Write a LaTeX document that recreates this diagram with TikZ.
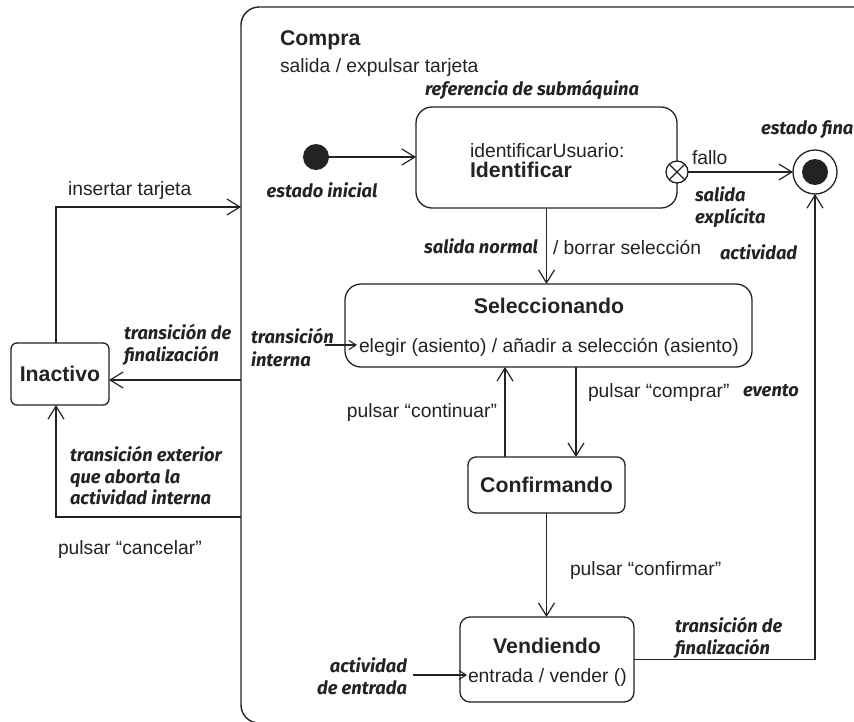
\documentclass[tikz,border=0pt]{standalone}
\usepackage{fontspec}
\setmainfont{Liberation Sans}
\newfontfamily\notefont{Fira Sans}
\usetikzlibrary{arrows.meta}
\definecolor{ink}{RGB}{35,35,35}

\begin{document}
\begin{tikzpicture}[x=1pt,y=-1pt,
  every node/.style={inner sep=0pt, outer sep=0pt},
  txt/.style={font=\fontsize{19.3}{23}\selectfont, text=ink, anchor=base west},
  ttl/.style={font=\fontsize{21.3}{25}\selectfont\bfseries, text=ink, anchor=base},
  note/.style={font=\notefont\fontsize{18.3}{22.5}\selectfont\bfseries\itshape, text=ink, anchor=base west, align=left},
  statebox/.style={draw=ink, line width=1.3pt, rounded corners=#1, fill=white},
  statebox/.default=12pt,
  wire/.style={draw=ink, line width=1.2pt},
  arr/.style={wire, -{Straight Barb[length=13pt,width=16pt,line width=1.2pt]}},
  arrsmall/.style={wire, -{Straight Barb[length=7pt,width=9pt,line width=1.1pt]}},
  dot/.style={circle, fill=ink, minimum size=#1},
]
\useasboundingbox (0,0) rectangle (854,721);

% composite state "Compra" (runs past the right and bottom edges)
\node[draw=ink, line width=1.4pt, rounded corners=18pt, minimum width=700pt,
      minimum height=716pt, anchor=north west] (compra) at (241,7) {};
\node[ttl, anchor=base west] (compraName) at (280,45.5) {Compra};
\node[txt] (compraExit) at (280,72) {salida / expulsar tarjeta};

% states
\node[statebox=6pt, minimum width=98pt, minimum height=62pt] (inact) at (60,374) {};
\node[ttl] (inactName) at (60,381.5) {Inactivo};

\node[statebox=16pt, minimum width=261pt, minimum height=101pt] (ident) at (546.5,157.5) {};
\node[txt] (identRef) at (470,157) {identificarUsuario:};
\node[ttl, anchor=base west] (identName) at (470,177.5) {Identificar};

\node[statebox=16pt, minimum width=407pt, minimum height=83pt] (sel) at (548.5,325.5) {};
\node[ttl] (selName) at (549,313.5) {Seleccionando};
\node[txt] (selInt) at (359,352) {elegir (asiento) / añadir a selección (asiento)};

\node[statebox=8pt, minimum width=157pt, minimum height=56pt] (conf) at (546.5,485) {};
\node[ttl] (confName) at (546.5,492.5) {Confirmando};

\node[statebox=10pt, minimum width=174pt, minimum height=85pt] (vend) at (547,659.5) {};
\node[ttl] (vendName) at (547,653.5) {Vendiendo};
\node[txt] (vendEntry) at (468,682) {entrada / vender ()};

% pseudostates
\node[dot=26pt] (init) at (316,157) {};
\node[circle, draw=ink, line width=1.3pt, fill=white, minimum size=44pt] (final) at (815,172) {};
\node[dot=26pt] (finalCore) at (final.center) {};
\node[circle, draw=ink, line width=1.3pt, fill=white, minimum size=22pt] (exitpt) at (677,172) {};
\draw[wire] (exitpt.north west) -- (exitpt.south east);
\draw[wire] (exitpt.north east) -- (exitpt.south west);

% helper points
\coordinate (insIn) at (241,207);
\coordinate (finOut) at (241,380);
\coordinate (canOut) at (241,517);
\coordinate (colInact) at (56,0);
\coordinate (colUp) at (505,0);
\coordinate (colDown) at (576,0);
\coordinate (intStart) at (325,345);
\coordinate (intEnd) at (357,345);
\coordinate (entStart) at (413,675);
\coordinate (entEnd) at (467,675);

% transitions
\draw[arr] (init) -- (ident.west |- init);
\draw[arr] (exitpt.east) -- (final.west);
\draw[arr] (ident.south) -- (ident.south |- sel.north);
\draw[arr] (sel.south -| colDown) -- (conf.north -| colDown);
\draw[arr] (conf.north -| colUp) -- (sel.south -| colUp);
\draw[arr] (conf.south) -- (conf.south |- vend.north);
\draw[arr] (vend.east) -| (final.south);
\draw[arr] (inact.north -| colInact) |- (insIn);
\draw[arr] (finOut) -- (finOut -| inact.east);
\draw[arr] (canOut) -| (inact.south -| colInact);
\draw[arrsmall] (intStart) -- (intEnd);
\draw[arrsmall] (entStart) -- (entEnd);

% event / action labels
\node[txt] (lblIns) at (68,195) {insertar tarjeta};
\node[txt] (lblCan) at (58,554) {pulsar “cancelar”};
\node[txt] (lblFallo) at (692,164) {fallo};
\node[txt] (lblBorrar) at (553,254) {/ borrar selección};
\node[txt] (lblComprar) at (588,397) {pulsar “comprar”};
\node[txt, anchor=base east] (lblCont) at (497,417) {pulsar “continuar”};
\node[txt] (lblConf) at (570,575) {pulsar “confirmar”};

% annotations (multi-line ones are anchored on their last line)
\node[note, anchor=base] (nRef) at (532,95.5) {referencia de submáquina};
\node[note, anchor=base] (nInit) at (322,197.5) {estado inicial};
\node[note] (nFinal) at (761,134) {estado final};
\node[note] (nExpl) at (695,223.5) {salida\\explícita};
\node[note] (nAct) at (720,259) {actividad};
\node[note] (nEvt) at (743,396.5) {evento};
\node[note, anchor=base east] (nNormal) at (538,253.5) {salida normal};
\node[note] (nFinL) at (124,361.5) {transición de\\finalización};
\node[note] (nInt) at (251,366) {transición\\interna};
\node[note, font=\notefont\fontsize{18.3}{21.5}\selectfont\bfseries\itshape] (nExt) at (70,504.5) {transición exterior\\que aborta la\\actividad interna};
\node[note, anchor=base east, align=right] (nEntry) at (407,694.5) {actividad\\de entrada};
\node[note] (nFinV) at (675,654.5) {transición de\\finalización};
\end{tikzpicture}
\end{document}
